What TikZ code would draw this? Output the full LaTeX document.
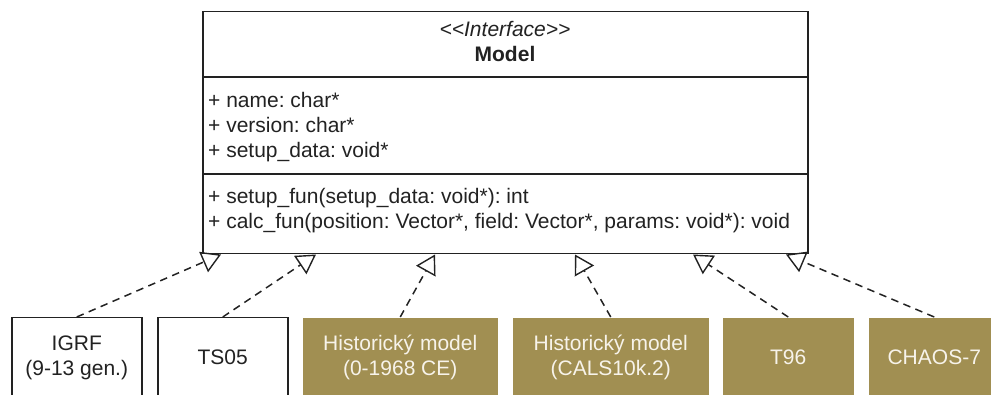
\documentclass[tikz,border=0pt]{standalone}
\usepackage{fontspec}
\setmainfont{Liberation Sans}
\usetikzlibrary{arrows.meta,calc}
\frenchspacing
\definecolor{ink}{HTML}{222222}
\definecolor{olive}{HTML}{A18F52}
\definecolor{paper}{HTML}{F7F3EA}
\newcommand\umlfont{\fontsize{21}{25}\selectfont}
\tikzset{
  uml/.style={draw=ink, line width=1.5pt},
  txt/.style={inner sep=0pt, font=\umlfont, text=ink},
  member/.style={txt, anchor=base west},
  impl/.style={draw=ink, line width=1.5pt, dash pattern=on 7.5pt off 5.5pt,
    -{Triangle[open, length=19pt, width=22pt, line width=1.4pt]}},
  plainbox/.style={draw=ink, line width=1.5pt, fill=white, anchor=north west,
    minimum height=80pt, inner sep=0pt, align=center, text=ink, font=\umlfont},
  goldbox/.style={plainbox, draw=none, fill=olive, text=paper},
}
\begin{document}
\begin{tikzpicture}[x=1pt,y=-1pt]
\useasboundingbox (0,0) rectangle (991,395);

% interface class box with its three compartments
\node[uml, anchor=north west, minimum width=605pt, minimum height=242pt, inner sep=0pt] (model) at (202,11) {};
\draw[uml] (model.west |- 0,77) -- (model.east |- 0,77);
\draw[uml] (model.west |- 0,174) -- (model.east |- 0,174);

\node[txt, anchor=base, font=\umlfont\itshape] (stereo) at (505,37) {{<}{<}Interface{>}{>}};
\node[txt, anchor=base, font=\umlfont\bfseries] (title) at (505,62) {Model};

\node[member] (a1) at (208,108) {+ name: char*};
\node[member] (a2) at (208,133) {+ version: char*};
\node[member] (a3) at (208,158) {+ setup\_data: void*};
\node[member] (m1) at (208,204) {+ setup\_fun(setup\_data: void*): int};
\node[member] (m2) at (208,229) {+ calc\_fun(position: Vector*, field: Vector*, params: void*): void};

% implementing models
\node[plainbox, minimum width=130pt] (igrf) at (11,317) {IGRF\\(9-13 gen.)};
\node[plainbox, minimum width=130pt] (ts05) at (157,317) {TS05};
\node[goldbox, minimum width=195pt] (hist) at (302,317) {Historický model\\(0-1968 CE)};
\node[goldbox, minimum width=196pt] (cals) at (512,317) {Historický model\\(CALS10k.2)};
\node[goldbox, minimum width=131pt] (t96) at (722,317) {T96};
\node[goldbox, minimum width=131pt] (chaos) at (868,317) {CHAOS-7};

% realization arrows
\draw[impl] (igrf.north)  -- ($(model.south west)+(19,0)$);
\draw[impl] (ts05.north)  -- ($(model.south west)+(114,0)$);
\draw[impl] (hist.north)  -- ($(model.south west)+(233,0)$);
\draw[impl] (cals.north)  -- ($(model.south west)+(373,0)$);
\draw[impl] (t96.north)   -- ($(model.south west)+(491,0)$);
\draw[impl] (chaos.north) -- ($(model.south west)+(584,0)$);
\end{tikzpicture}
\end{document}
